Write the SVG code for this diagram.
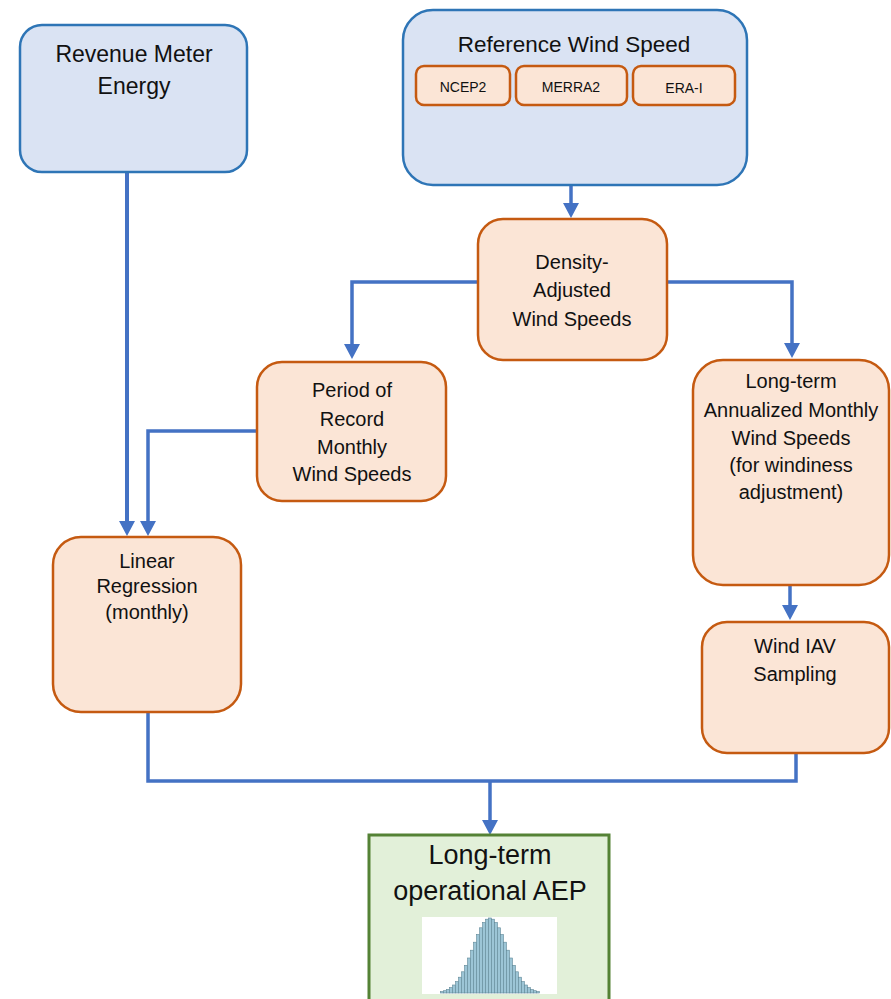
<svg xmlns="http://www.w3.org/2000/svg" width="891" height="999" viewBox="0 0 891 999">
<style>
text{font-family:"Liberation Sans",Arial,sans-serif;fill:#111;text-anchor:middle}
.blue{fill:#DAE3F3;stroke:#2E75B6;stroke-width:2.5}
.org{fill:#FBE5D6;stroke:#C55A11;stroke-width:2.5}
.grn{fill:#E2F0D9;stroke:#548235;stroke-width:3}
.t1{font-size:23px}
.t2{font-size:20px}
.t3{font-size:14px}
.t4{font-size:27px}
.con{fill:none;stroke:#4472C4;stroke-width:3.5}
.bar{fill:#9CC5D6;stroke:#5F8797;stroke-width:0.6}
</style>
<defs>
<marker id="ah" markerUnits="userSpaceOnUse" markerWidth="16" markerHeight="16" viewBox="0 -8 15 16" refX="0" refY="0" orient="auto" overflow="visible">
<path d="M0,-8 L15,0 L0,8 Z" fill="#4472C4"/>
</marker>
</defs>
<rect width="891" height="999" fill="#fff"/>

<g id="connectors">
<path class="con" style="stroke-width:4" d="M127,172 V521" marker-end="url(#ah)"/>
<path class="con" d="M257,431 H148 V521" marker-end="url(#ah)"/>
<path class="con" d="M571,185 V203" marker-end="url(#ah)"/>
<path class="con" d="M478,282 H352 V344" marker-end="url(#ah)"/>
<path class="con" d="M667,282 H792 V343" marker-end="url(#ah)"/>
<path class="con" d="M790,585 V605" marker-end="url(#ah)"/>
<path class="con" d="M148,713 V781 H796 V754"/>
<path class="con" d="M490,781 V820" marker-end="url(#ah)"/>
</g>

<g id="revenue">
<rect class="blue" x="20" y="25" width="227" height="147" rx="22"/>
<text class="t1" x="134" y="62">Revenue Meter</text>
<text class="t1" x="134" y="94">Energy</text>
</g>

<g id="reference">
<rect class="blue" x="403" y="10" width="344" height="175" rx="30"/>
<text class="t1" x="574" y="52" style="font-size:22.5px">Reference Wind Speed</text>
<g id="ncep2"><rect class="org" x="416" y="66" width="94" height="39" rx="8"/><text class="t3" x="463" y="92">NCEP2</text></g>
<g id="merra2"><rect class="org" x="516" y="66" width="111" height="39" rx="8"/><text class="t3" x="571" y="92">MERRA2</text></g>
<g id="erai"><rect class="org" x="633" y="66" width="102" height="39" rx="8"/><text class="t3" x="684" y="93">ERA-I</text></g>
</g>

<g id="density">
<rect class="org" x="478" y="219" width="189" height="141" rx="25"/>
<text class="t2" x="572" y="269">Density-</text>
<text class="t2" x="572" y="297">Adjusted</text>
<text class="t2" x="572" y="326">Wind Speeds</text>
</g>

<g id="period">
<rect class="org" x="257" y="362" width="189" height="139" rx="25"/>
<text class="t2" x="352" y="397">Period of</text>
<text class="t2" x="352" y="426">Record</text>
<text class="t2" x="352" y="454">Monthly</text>
<text class="t2" x="352" y="481">Wind Speeds</text>
</g>

<g id="longterm">
<rect class="org" x="693" y="360" width="196" height="225" rx="30"/>
<text class="t2" x="791" y="388">Long-term</text>
<text class="t2" x="791" y="417">Annualized Monthly</text>
<text class="t2" x="791" y="445">Wind Speeds</text>
<text class="t2" x="791" y="472">(for windiness</text>
<text class="t2" x="791" y="499">adjustment)</text>
</g>

<g id="linear">
<rect class="org" x="53" y="537" width="188" height="175" rx="28"/>
<text class="t2" x="147" y="568">Linear</text>
<text class="t2" x="147" y="593">Regression</text>
<text class="t2" x="147" y="619">(monthly)</text>
</g>

<g id="windiav">
<rect class="org" x="702" y="622" width="187" height="131" rx="25"/>
<text class="t2" x="795" y="653">Wind IAV</text>
<text class="t2" x="795" y="681">Sampling</text>
</g>

<g id="aep">
<rect class="grn" x="369" y="835" width="240" height="170"/>
<text class="t4" x="490" y="864">Long-term</text>
<text class="t4" x="490" y="900">operational AEP</text>
<rect x="422" y="917" width="135" height="77" fill="#fff"/>
<g id="histogram">
<rect class="bar" x="440.5" y="991.6" width="3" height="1.4"/>
<rect class="bar" x="443.5" y="990.7" width="3" height="2.3"/>
<rect class="bar" x="446.5" y="989.5" width="3" height="3.5"/>
<rect class="bar" x="449.5" y="987.6" width="3" height="5.4"/>
<rect class="bar" x="452.5" y="985" width="3" height="8"/>
<rect class="bar" x="455.5" y="981.6" width="3" height="11.4"/>
<rect class="bar" x="458.5" y="977.2" width="3" height="15.8"/>
<rect class="bar" x="461.5" y="971.8" width="3" height="21.2"/>
<rect class="bar" x="464.5" y="965.3" width="3" height="27.7"/>
<rect class="bar" x="467.5" y="958" width="3" height="35"/>
<rect class="bar" x="470.5" y="950.2" width="3" height="42.8"/>
<rect class="bar" x="473.5" y="942.2" width="3" height="50.8"/>
<rect class="bar" x="476.5" y="934.5" width="3" height="58.5"/>
<rect class="bar" x="479.5" y="927.8" width="3" height="65.2"/>
<rect class="bar" x="482.5" y="922.5" width="3" height="70.5"/>
<rect class="bar" x="485.5" y="919.2" width="3" height="73.8"/>
<rect class="bar" x="488.5" y="918" width="3" height="75"/>
<rect class="bar" x="491.5" y="919.2" width="3" height="73.8"/>
<rect class="bar" x="494.5" y="922.5" width="3" height="70.5"/>
<rect class="bar" x="497.5" y="927.8" width="3" height="65.2"/>
<rect class="bar" x="500.5" y="934.5" width="3" height="58.5"/>
<rect class="bar" x="503.5" y="942.2" width="3" height="50.8"/>
<rect class="bar" x="506.5" y="950.2" width="3" height="42.8"/>
<rect class="bar" x="509.5" y="958" width="3" height="35"/>
<rect class="bar" x="512.5" y="965.3" width="3" height="27.7"/>
<rect class="bar" x="515.5" y="971.8" width="3" height="21.2"/>
<rect class="bar" x="518.5" y="977.2" width="3" height="15.8"/>
<rect class="bar" x="521.5" y="981.6" width="3" height="11.4"/>
<rect class="bar" x="524.5" y="985" width="3" height="8"/>
<rect class="bar" x="527.5" y="987.6" width="3" height="5.4"/>
<rect class="bar" x="530.5" y="989.5" width="3" height="3.5"/>
<rect class="bar" x="533.5" y="990.7" width="3" height="2.3"/>
<rect class="bar" x="536.5" y="991.6" width="3" height="1.4"/>
</g>
</g>
</svg>
